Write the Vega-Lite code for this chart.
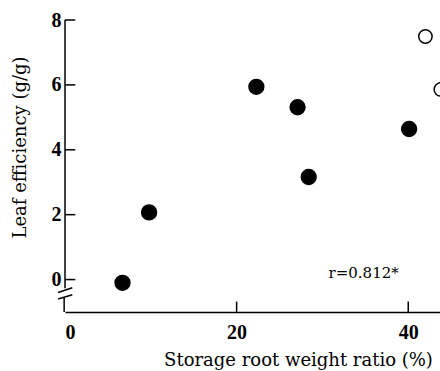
{
  "$schema": "https://vega.github.io/schema/vega-lite/v6.json",
  "autosize": {"type": "none"},
  "width": 375,
  "height": 292,
  "padding": {"left": 65, "top": 20, "right": 0, "bottom": 59},
  "background": "white",
  "config": {
    "view": {"stroke": null},
    "axis": {"grid": false, "ticks": false, "labelFont": "Liberation Serif", "titleFont": "DejaVu Serif", "labelColor": "black", "titleColor": "black", "domainColor": "black"}
  },
  "layer": [
    {
      "data": {"values": [
        {"x": 6.7, "y": -0.1, "group": "filled"},
        {"x": 9.8, "y": 2.07, "group": "filled"},
        {"x": 22.3, "y": 5.94, "group": "filled"},
        {"x": 27.1, "y": 5.31, "group": "filled"},
        {"x": 28.4, "y": 3.16, "group": "filled"},
        {"x": 40.1, "y": 4.64, "group": "filled"},
        {"x": 42.0, "y": 7.49, "group": "open"},
        {"x": 43.8, "y": 5.86, "group": "open"}
      ]},
      "mark": {"type": "point", "shape": "circle", "strokeWidth": 1.5},
      "encoding": {
        "x": {"field": "x", "type": "quantitative", "scale": {"domain": [0, 43.7], "nice": false, "zero": false},
          "axis": {"values": [0, 20, 40], "labelPadding": 10, "labelFontSize": 20, "labelFontWeight": "bold", "domainWidth": 1.5,
            "title": "Storage root weight ratio (%)", "titleFontSize": 18, "titleFontWeight": "normal", "titleX": 233, "titleY": 57, "titleBaseline": "bottom", "titleAlign": "center"}},
        "y": {"field": "y", "type": "quantitative", "scale": {"domain": [-1, 8], "nice": false, "zero": false},
          "axis": {"values": [0, 2, 4, 6, 8], "domain": false, "labelPadding": 4, "labelFontSize": 20, "labelFontWeight": "bold",
            "title": "Leaf efficiency (g/g)", "titleFontSize": 18, "titleFontWeight": "normal", "titleX": -45, "titleY": 127, "titleAngle": -90, "titleAlign": "center", "titleBaseline": "middle"}},
        "fill": {"field": "group", "type": "nominal", "scale": {"domain": ["filled", "open"], "range": ["black", "white"]}, "legend": null},
        "size": {"field": "group", "type": "nominal", "scale": {"domain": ["filled", "open"], "range": [220, 180]}, "legend": null},
        "stroke": {"value": "black"},
        "opacity": {"value": 1}
      }
    },
    {
      "data": {"values": [
        {"x": 0, "y": 8, "x2": 0, "y2": -0.27},
        {"x": -0.1, "y": -0.56, "x2": -0.1, "y2": -1},
        {"x": -0.8, "y": -0.4, "x2": 0.85, "y2": -0.25},
        {"x": -0.8, "y": -0.6, "x2": 0.85, "y2": -0.47},
        {"x": 0, "y": 0, "x2": 1.2, "y2": 0},
        {"x": 0, "y": 2, "x2": 1.2, "y2": 2},
        {"x": 0, "y": 4, "x2": 1.2, "y2": 4},
        {"x": 0, "y": 6, "x2": 1.2, "y2": 6},
        {"x": 0, "y": 8, "x2": 1.2, "y2": 8},
        {"x": 20, "y": -1, "x2": 20, "y2": -0.68},
        {"x": 40, "y": -1, "x2": 40, "y2": -0.68}
      ]},
      "mark": {"type": "rule", "strokeWidth": 1.5, "color": "black"},
      "encoding": {
        "x": {"field": "x", "type": "quantitative"},
        "y": {"field": "y", "type": "quantitative"},
        "x2": {"field": "x2"},
        "y2": {"field": "y2"}
      }
    },
    {
      "data": {"values": [{"x": 34.8, "y": 0.2, "label": "r=0.812*"}]},
      "mark": {"type": "text", "font": "DejaVu Serif", "fontSize": 15, "align": "center", "baseline": "middle", "color": "black"},
      "encoding": {
        "x": {"field": "x", "type": "quantitative"},
        "y": {"field": "y", "type": "quantitative"},
        "text": {"field": "label"}
      }
    }
  ]
}
